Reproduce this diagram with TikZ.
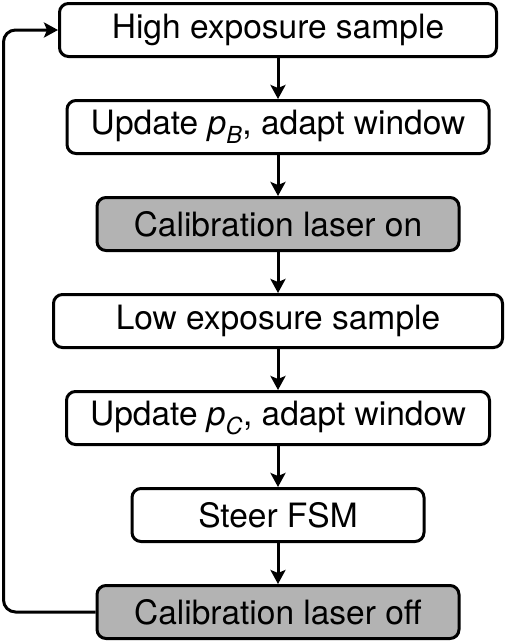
\documentclass[tikz,border=0pt]{standalone}
\usepackage{fontspec}
\setmainfont{TeX Gyre Heros}
\usetikzlibrary{arrows.meta,positioning}
\definecolor{lasergray}{RGB}{179,179,179}
\tikzset{
  basenode/.style = {align=center, inner sep=0pt, text centered, rectangle, rounded corners=9pt,
                     draw=black, line width=3pt, minimum height=53pt,
                     font=\fontsize{33.5pt}{40pt}\selectfont},
  step_node/.style = {basenode},
  laser_node/.style = {basenode, fill=lasergray},
}

\begin{document}
\begin{tikzpicture}[->,>={Stealth[length=14pt,width=15pt,inset=3pt]}, line width=3pt,
                    x=1pt, y=-1pt, node distance=41pt]
    \useasboundingbox (0,0) rectangle (507,643);
    \node [step_node, minimum width=437pt] (high) at (278,30) {High exposure sample};
    \node [step_node, minimum width=422pt, below=of high] (updB) {Update \textit{p}\textsubscript{\textit{B}}, adapt window};
    \node [laser_node, minimum width=362pt, below=of updB] (laseron) {Calibration laser on};
    \node [step_node, minimum width=449pt, below=of laseron] (low) {Low exposure sample};
    \node [step_node, minimum width=423pt, below=of low] (updC) {Update \textit{p}\textsubscript{\textit{C}}, adapt window};
    \node [step_node, minimum width=292pt, below=of updC] (steer) {Steer FSM};
    \node [laser_node, minimum width=362pt, below=of steer] (laseroff) {Calibration laser off};
    \coordinate (loopcorner) at (3.5,30);

    \draw (high) -- (updB);
    \draw (updB) -- (laseron);
    \draw (laseron) -- (low);
    \draw (low) -- (updC);
    \draw (updC) -- (steer);
    \draw (steer) -- (laseroff);
    % feedback loop
    \draw [rounded corners=12pt] (laseroff.west) -| (loopcorner) -- (high.west);
\end{tikzpicture}
\end{document}
